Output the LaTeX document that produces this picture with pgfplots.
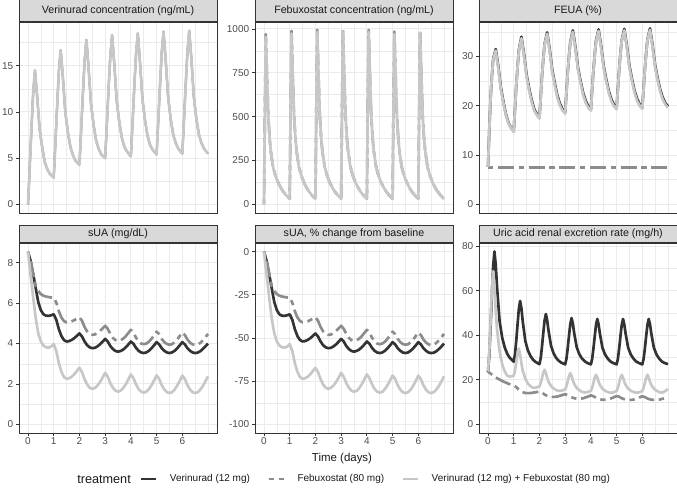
\documentclass[border=0pt]{standalone}
\usepackage{pgfplots}
\pgfplotsset{compat=1.18}
\usepackage{pgfplotstable}
\usepackage{fontspec}
\setmainfont{Liberation Sans}

\definecolor{verc}{gray}{0.2}
\definecolor{febc}{gray}{0.55}
\definecolor{comc}{gray}{0.78}
\definecolor{stripc}{gray}{0.85}
\definecolor{gridc}{gray}{0.92}
\definecolor{framec}{gray}{0.2}
\definecolor{tickc}{gray}{0.3}

% verinurad concentration (ng/mL), same curve for both arms
\pgfplotstableread{
t c
0 0
0.05 2.9
0.1 6.1
0.15 9.1
0.2 12.0
0.27 14.5
0.35 11.9
0.45 8.2
0.55 6.2
0.65 4.6
0.75 3.8
0.85 3.3
1 2.9
1.05 5.7
1.1 8.7
1.15 11.6
1.2 14.4
1.27 16.7
1.35 14.0
1.45 10.0
1.55 7.8
1.65 6.2
1.75 5.3
1.85 4.7
2 4.3
2.05 7.0
2.1 10.0
2.15 12.8
2.2 15.5
2.27 17.8
2.35 15.0
2.45 10.9
2.55 8.6
2.65 6.9
2.75 6.0
2.85 5.4
3 5.0
3.05 7.7
3.1 10.6
3.15 13.4
3.2 16.0
3.27 18.3
3.35 15.4
3.45 11.2
3.55 8.9
3.65 7.2
3.75 6.2
3.85 5.7
4 5.2
4.05 7.9
4.1 10.8
4.15 13.6
4.2 16.2
4.27 18.5
4.35 15.6
4.45 11.4
4.55 9.1
4.65 7.4
4.75 6.4
4.85 5.9
5 5.4
5.05 8.1
5.1 11.0
5.15 13.8
5.2 16.4
5.27 18.7
5.35 15.8
5.45 11.6
5.55 9.2
5.65 7.5
5.75 6.6
5.85 6.0
6 5.5
6.05 8.2
6.1 11.1
6.15 13.9
6.2 16.5
6.27 18.8
6.35 15.9
6.45 11.6
6.55 9.2
6.65 7.5
6.75 6.6
6.85 6.0
7 5.5
}\tabver

% febuxostat concentration (ng/mL)
\pgfplotstableread{
t feb com
0 0 0
0.035 530 525
0.07 970 955
0.1 817 817
0.13 669 669
0.17 494 494
0.22 374 374
0.27 295 295
0.36 207 207
0.45 161 161
0.55 124 124
0.65 95 95
0.75 72 72
0.87 50 50
1 32 32
1.035 555 550
1.07 989 974
1.1 833 833
1.13 682 682
1.17 503 503
1.22 381 381
1.27 300 300
1.36 211 211
1.45 164 164
1.55 126 126
1.65 96 96
1.75 73 73
1.87 51 51
2 32 32
2.035 560 555
2.07 995 983
2.1 840 840
2.13 688 688
2.17 508 508
2.22 384 384
2.27 303 303
2.36 213 213
2.45 165 165
2.55 127 127
2.65 97 97
2.75 73 73
2.87 51 51
3 32 32
3.035 560 555
3.07 995 983
3.1 840 840
3.13 688 688
3.17 508 508
3.22 384 384
3.27 303 303
3.36 213 213
3.45 165 165
3.55 127 127
3.65 97 97
3.75 73 73
3.87 51 51
4 32 32
4.035 560 555
4.07 995 983
4.1 840 840
4.13 688 688
4.17 508 508
4.22 384 384
4.27 303 303
4.36 213 213
4.45 165 165
4.55 127 127
4.65 97 97
4.75 73 73
4.87 51 51
5 32 32
5.035 553 548
5.07 985 970
5.1 829 829
5.13 679 679
5.17 501 501
5.22 379 379
5.27 299 299
5.36 210 210
5.45 163 163
5.55 126 126
5.65 96 96
5.75 72 72
5.87 51 51
6 32 32
6.035 558 553
6.07 992 980
6.1 838 838
6.13 686 686
6.17 506 506
6.22 383 383
6.27 302 302
6.36 212 212
6.45 165 165
6.55 127 127
6.65 96 96
6.75 73 73
6.87 51 51
7 30 30
}\tabfeb

% FEUA (%)
\pgfplotstableread{
t ver com
0 7.6 7.6
0.05 15.0 15.0
0.1 21.5 21.5
0.15 26.0 26.0
0.2 29.4 29.3
0.3 31.5 31.2
0.4 28.0 27.6
0.5 23.7 23.3
0.6 20.8 20.5
0.7 18.2 18.0
0.8 16.5 16.4
0.9 15.5 15.4
1 14.8 14.7
1.05 19.5 19.5
1.1 24.2 24.2
1.15 28.0 28.0
1.2 31.3 31.2
1.3 34.0 33.7
1.4 30.5 30.1
1.5 26.3 25.9
1.6 23.5 23.1
1.7 21.1 20.7
1.8 19.3 19.0
1.9 18.3 18.1
2 17.6 17.4
2.05 21.8 21.7
2.1 26.1 26.0
2.15 29.5 29.4
2.2 32.5 32.4
2.3 34.9 34.6
2.4 31.4 31.0
2.5 27.2 26.8
2.6 24.5 24.1
2.7 22.0 21.6
2.8 20.4 20.0
2.9 19.3 19.0
3 18.65 18.4
3.05 22.8 22.6
3.1 26.8 26.7
3.15 30.1 30.0
3.2 32.9 32.8
3.3 35.3 35.0
3.4 31.9 31.5
3.5 27.7 27.3
3.6 25.0 24.6
3.7 22.6 22.2
3.8 21.0 20.6
3.9 19.9 19.6
4 19.25 19.0
4.05 23.3 23.1
4.1 27.2 27.1
4.15 30.4 30.3
4.2 33.2 33.1
4.3 35.5 35.2
4.4 32.1 31.7
4.5 28.0 27.6
4.6 25.3 24.9
4.7 22.9 22.5
4.8 21.3 20.9
4.9 20.2 19.9
5 19.55 19.3
5.05 23.5 23.3
5.1 27.4 27.3
5.15 30.6 30.5
5.2 33.3 33.2
5.3 35.6 35.3
5.4 32.2 31.8
5.5 28.1 27.7
5.6 25.4 25.0
5.7 23.0 22.6
5.8 21.4 21.0
5.9 20.3 20.0
6 19.65 19.4
6.05 23.6 23.4
6.1 27.5 27.4
6.15 30.7 30.6
6.2 33.4 33.3
6.3 35.7 35.4
6.4 32.3 31.9
6.5 28.2 27.8
6.6 25.5 25.1
6.7 23.2 22.8
6.8 21.6 21.2
6.9 20.5 20.2
7 19.9 19.6
}\tabfeua

% sUA (mg/dL), % change, and febuxostat excretion rate (mg/h)
\pgfplotstableread{
t ver feb com verp febp comp febx
0 8.55 8.55 8.55 0 0 0 23.7
0.1 8.1 8.1 7.4 -5.3 -5.3 -13.5 22.8
0.2 7.45 7.45 6.3 -12.9 -12.9 -26.3 21.8
0.3 6.75 6.85 5.25 -21.1 -19.9 -38.6 21.0
0.4 6.05 6.6 4.5 -29.2 -22.8 -47.4 20.4
0.5 5.65 6.45 4.1 -33.9 -24.6 -52.0 19.8
0.6 5.45 6.37 3.9 -36.3 -25.5 -54.4 19.2
0.7 5.38 6.33 3.82 -37.1 -26.0 -55.3 18.7
0.8 5.37 6.3 3.8 -37.2 -26.3 -55.6 18.2
0.9 5.4 6.28 3.85 -36.8 -26.5 -55.0 17.8
1.0 5.45 6.27 3.98 -36.3 -26.7 -53.5 17.4
1.1 5.18 6.03 3.63 -39.4 -29.5 -57.5 16.7
1.2 4.71 5.6 3.03 -44.9 -34.5 -64.6 15.5
1.3 4.37 5.29 2.6 -48.9 -38.1 -69.6 14.7
1.4 4.17 5.11 2.34 -51.2 -40.2 -72.6 14.2
1.5 4.1 5.05 2.25 -52.0 -40.9 -73.7 14.0
1.6 4.12 5.06 2.28 -51.8 -40.8 -73.3 14.0
1.7 4.18 5.1 2.36 -51.1 -40.4 -72.4 14.1
1.8 4.27 5.16 2.48 -50.1 -39.6 -71.0 14.3
1.9 4.38 5.23 2.64 -48.8 -38.8 -69.1 14.5
2.0 4.5 5.3 2.8 -47.4 -38.0 -67.3 14.7
2.1 4.35 5.13 2.59 -49.1 -40.0 -69.7 14.2
2.2 4.1 4.82 2.23 -52.0 -43.6 -73.9 13.4
2.3 3.92 4.6 1.97 -54.2 -46.2 -77.0 12.7
2.4 3.81 4.47 1.81 -55.4 -47.7 -78.8 12.4
2.5 3.77 4.43 1.76 -55.9 -48.2 -79.4 12.3
2.6 3.79 4.45 1.8 -55.7 -48.0 -78.9 12.3
2.7 3.86 4.52 1.92 -54.9 -47.1 -77.5 12.5
2.8 3.96 4.62 2.09 -53.7 -46.0 -75.6 12.8
2.9 4.09 4.75 2.31 -52.2 -44.4 -73.0 13.2
3.0 4.23 4.88 2.55 -50.5 -42.9 -70.2 13.5
3.1 4.1 4.73 2.36 -52.0 -44.7 -72.4 13.1
3.2 3.88 4.47 2.04 -54.6 -47.7 -76.1 12.4
3.3 3.73 4.28 1.81 -56.4 -49.9 -78.8 11.9
3.4 3.63 4.17 1.67 -57.5 -51.2 -80.5 11.6
3.5 3.6 4.13 1.62 -57.9 -51.7 -81.1 11.4
3.6 3.63 4.16 1.66 -57.5 -51.3 -80.6 11.5
3.7 3.7 4.24 1.79 -56.7 -50.4 -79.1 11.7
3.8 3.81 4.36 1.98 -55.4 -49.0 -76.8 12.1
3.9 3.95 4.52 2.22 -53.8 -47.1 -74.0 12.5
4.0 4.1 4.68 2.47 -52.0 -45.3 -71.1 13.0
4.1 3.99 4.54 2.29 -53.3 -46.9 -73.2 12.6
4.2 3.79 4.29 1.98 -55.7 -49.8 -76.8 11.9
4.3 3.64 4.11 1.75 -57.4 -51.9 -79.5 11.4
4.4 3.56 4.0 1.62 -58.4 -53.2 -81.1 11.1
4.5 3.53 3.97 1.57 -58.7 -53.6 -81.6 11.0
4.6 3.56 4.0 1.61 -58.4 -53.2 -81.2 11.1
4.7 3.64 4.09 1.74 -57.4 -52.2 -79.6 11.3
4.8 3.76 4.23 1.93 -56.0 -50.5 -77.4 11.7
4.9 3.91 4.4 2.17 -54.3 -48.5 -74.6 12.2
5.0 4.07 4.59 2.42 -52.4 -46.3 -71.7 12.7
5.1 3.96 4.46 2.25 -53.7 -47.8 -73.7 12.4
5.2 3.77 4.23 1.94 -55.9 -50.5 -77.3 11.7
5.3 3.64 4.07 1.72 -57.4 -52.4 -79.9 11.3
5.4 3.56 3.98 1.59 -58.4 -53.5 -81.4 11.0
5.5 3.53 3.94 1.55 -58.7 -53.9 -81.9 10.9
5.6 3.56 3.97 1.59 -58.4 -53.6 -81.4 11.0
5.7 3.64 4.06 1.72 -57.4 -52.5 -79.9 11.2
5.8 3.76 4.2 1.91 -56.0 -50.9 -77.7 11.6
5.9 3.91 4.37 2.15 -54.3 -48.9 -74.9 12.1
6.0 4.07 4.55 2.41 -52.4 -46.8 -71.8 12.6
6.1 3.96 4.42 2.24 -53.7 -48.3 -73.8 12.2
6.2 3.77 4.2 1.94 -55.9 -50.9 -77.3 11.6
6.3 3.64 4.05 1.72 -57.4 -52.6 -79.9 11.2
6.4 3.56 3.96 1.59 -58.4 -53.7 -81.4 11.0
6.5 3.53 3.92 1.55 -58.7 -54.2 -81.9 10.9
6.6 3.55 3.95 1.59 -58.5 -53.8 -81.4 10.9
6.7 3.62 4.03 1.72 -57.7 -52.9 -79.9 11.2
6.8 3.73 4.16 1.9 -56.4 -51.3 -77.8 11.5
6.9 3.86 4.31 2.13 -54.9 -49.6 -75.1 11.9
7.0 4.0 4.48 2.38 -53.2 -47.6 -72.2 12.4
}\tabsua

% uric acid renal excretion rate (mg/h)
\pgfplotstableread{
t ver com
0 23.5 23.7
0.05 31 32.7
0.1 44 46.3
0.15 58 60.7
0.2 71 68.8
0.25 77.6 61.7
0.3 71.7 50.8
0.35 61.8 42.7
0.45 46.4 32.7
0.55 39.0 27.0
0.65 34.5 23.7
0.75 31.6 21.8
0.85 29.8 21.4
1 28.1 21.8
1.05 31.4 24.2
1.1 37.7 27.9
1.15 45.0 31.8
1.2 51.9 34.0
1.25 55.4 31.3
1.3 52.0 27.2
1.35 46.3 24.2
1.45 37.5 20.5
1.55 33.2 18.3
1.65 30.7 17.1
1.75 29.0 16.4
1.85 28.0 16.4
2 27.0 17.0
2.05 29.7 18.5
2.1 34.9 20.8
2.15 41.0 23.2
2.2 46.6 24.5
2.25 49.5 23.1
2.3 46.8 20.9
2.35 42.3 19.2
2.45 35.3 17.2
2.55 31.9 16.1
2.65 29.8 15.4
2.75 28.5 15.0
2.85 27.7 15.1
3 26.9 15.6
3.05 29.4 17.1
3.1 34.2 19.3
3.15 39.8 21.7
3.2 45.0 23.0
3.25 47.7 21.7
3.3 45.2 19.7
3.35 41.0 18.2
3.45 34.6 16.3
3.55 31.5 15.3
3.65 29.6 14.6
3.75 28.4 14.3
3.85 27.6 14.4
4 26.9 15.0
4.05 29.3 16.4
4.1 34.0 18.6
4.15 39.5 20.9
4.2 44.6 22.2
4.25 47.3 21.0
4.3 44.9 19.1
4.35 40.8 17.7
4.45 34.4 16.0
4.55 31.4 15.1
4.65 29.6 14.5
4.75 28.3 14.2
4.85 27.6 14.3
5 26.9 14.9
5.05 29.3 16.4
5.1 34.0 18.6
5.15 39.5 20.9
5.2 44.6 22.2
5.25 47.3 21.0
5.3 44.9 19.1
5.35 40.8 17.7
5.45 34.4 16.0
5.55 31.4 15.1
5.65 29.6 14.5
5.75 28.3 14.2
5.85 27.6 14.3
6 26.9 14.9
6.05 29.3 16.4
6.1 34.0 18.6
6.15 39.5 20.9
6.2 44.6 22.2
6.25 47.3 21.0
6.3 44.9 19.1
6.35 40.8 17.7
6.45 34.4 16.0
6.55 31.4 15.1
6.65 29.6 14.5
6.75 28.3 14.2
6.85 27.6 14.6
7 27.0 15.8
}\tabuaer

\pgfplotsset{
  every axis title shift=0pt,
  panel/.style={
    scale only axis, width=148.5pt,
    xmin=-0.35, xmax=7.35,
    xtick={0,1,2,3,4,5,6},
    minor xtick={0.5,1.5,2.5,3.5,4.5,5.5,6.5,7},
    grid=both,
    major grid style={gridc, line width=0.7pt},
    minor grid style={gridc, line width=0.35pt},
    axis line style={framec, line width=0.7pt},
    tick align=outside, tick pos=left,
    major tick length=2.4pt, minor tick length=0pt,
    major tick style={framec, line width=0.6pt},
    /pgf/number format/assume math mode=true,
    /pgf/number format/1000 sep={},
    tick label style={font=\fontsize{7.5}{9}\selectfont, text=tickc},
    yticklabel style={anchor=east, inner sep=0pt, xshift=-1.8pt},
    xticklabel style={anchor=north, inner sep=0pt, yshift=-1pt},
    title style={at={(0.5,1)}, anchor=south, yshift=0pt, fill=stripc, draw=framec,
      line width=0.7pt, minimum width=148.5pt, inner sep=0pt,
      font=\fontsize{8}{9.6}\selectfont, text=black!90},
    every axis plot/.append style={line width=2pt, line join=round, no markers},
  },
  top/.style={panel, height=143.25pt, xticklabels={},
    title style={minimum height=16.5pt}, xtick style={draw=none}},
  bot/.style={panel, height=142.5pt, title style={minimum height=12.5pt}},
  vr/.style={verc, solid},
  fb/.style={febc, dash pattern=on 4pt off 3.5pt on 12pt off 3.5pt},
  cb/.style={comc, solid},
}

\begin{document}
\begin{tikzpicture}
\useasboundingbox (0,0) rectangle (507.75pt,369.75pt);

\begin{axis}[top, at={(14.25pt,353.25pt)}, anchor=north west,
  title={Verinurad concentration (ng/mL)},
  ymin=-0.94, ymax=19.74, ytick={0,5,10,15}, minor ytick={2.5,7.5,12.5,17.5}]
\addplot[vr, line width=1.5pt] table[x=t, y=c] {\tabver};
\addplot[cb] table[x=t, y=c] {\tabver};
\end{axis}

\begin{axis}[top, at={(191.25pt,353.25pt)}, anchor=north west,
  title={Febuxostat concentration (ng/mL)},
  ymin=-49.5, ymax=1039.5, ytick={0,250,500,750,1000}, minor ytick={125,375,625,875}]
\addplot[fb] table[x=t, y=feb] {\tabfeb};
\addplot[cb] table[x=t, y=com] {\tabfeb};
\end{axis}

\begin{axis}[top, at={(359.25pt,353.25pt)}, anchor=north west,
  title={FEUA (\%)},
  ymin=-1.75, ymax=37.0, ytick={0,10,20,30}, minor ytick={5,15,25,35}]
\addplot[vr] table[x=t, y=ver] {\tabfeua};
\addplot[fb] coordinates {(0,7.5) (7,7.5)};
\addplot[cb] table[x=t, y=com] {\tabfeua};
\end{axis}

\begin{axis}[bot, at={(14.25pt,187.5pt)}, anchor=north west,
  title={sUA (mg/dL)},
  ymin=-0.43, ymax=8.98, ytick={0,2,4,6,8}, minor ytick={1,3,5,7}]
\addplot[vr] table[x=t, y=ver] {\tabsua};
\addplot[fb] table[x=t, y=feb] {\tabsua};
\addplot[cb] table[x=t, y=com] {\tabsua};
\end{axis}

\begin{axis}[bot, at={(191.25pt,187.5pt)}, anchor=north west,
  title={sUA, \% change from baseline},
  ymin=-105, ymax=5, ytick={-100,-75,-50,-25,0}, minor ytick={-87.5,-62.5,-37.5,-12.5},
  legend columns=3,
  legend style={at={(-0.5835,-0.242)}, anchor=west, draw=none, fill=none,
    inner sep=0pt, font=\fontsize{7.5}{9}\selectfont, text=black!90,
    nodes={inner sep=0pt},
    /tikz/every odd column/.append style={column sep=9.4pt},
    /tikz/every even column/.append style={column sep=13pt}},
  legend image code/.code={\draw[#1] (0pt,0pt) -- (11.25pt,0pt);}]
\addplot[vr] table[x=t, y=verp] {\tabsua};
\addlegendentry{Verinurad (12 mg)}
\addplot[fb] table[x=t, y=febp] {\tabsua};
\addlegendentry{Febuxostat (80 mg)}
\addplot[cb] table[x=t, y=comp] {\tabsua};
\addlegendentry{Verinurad (12 mg) + Febuxostat (80 mg)}
\end{axis}

\begin{axis}[bot, at={(359.25pt,187.5pt)}, anchor=north west,
  title={Uric acid renal excretion rate (mg/h)},
  ymin=-3.9, ymax=81.4, ytick={0,20,40,60,80}, minor ytick={10,30,50,70}]
\addplot[vr] table[x=t, y=ver] {\tabuaer};
\addplot[fb] table[x=t, y=febx] {\tabsua};
\addplot[cb] table[x=t, y=com] {\tabuaer};
\end{axis}

\node[anchor=center, font=\fontsize{8.6}{10}\selectfont, text=black!90] at (256.5pt,25.5pt) {Time (days)};
\node[anchor=west, inner sep=0pt, font=\fontsize{9.5}{11}\selectfont, text=black!90] at (57.75pt,10.5pt) {treatment};
\end{tikzpicture}
\end{document}
